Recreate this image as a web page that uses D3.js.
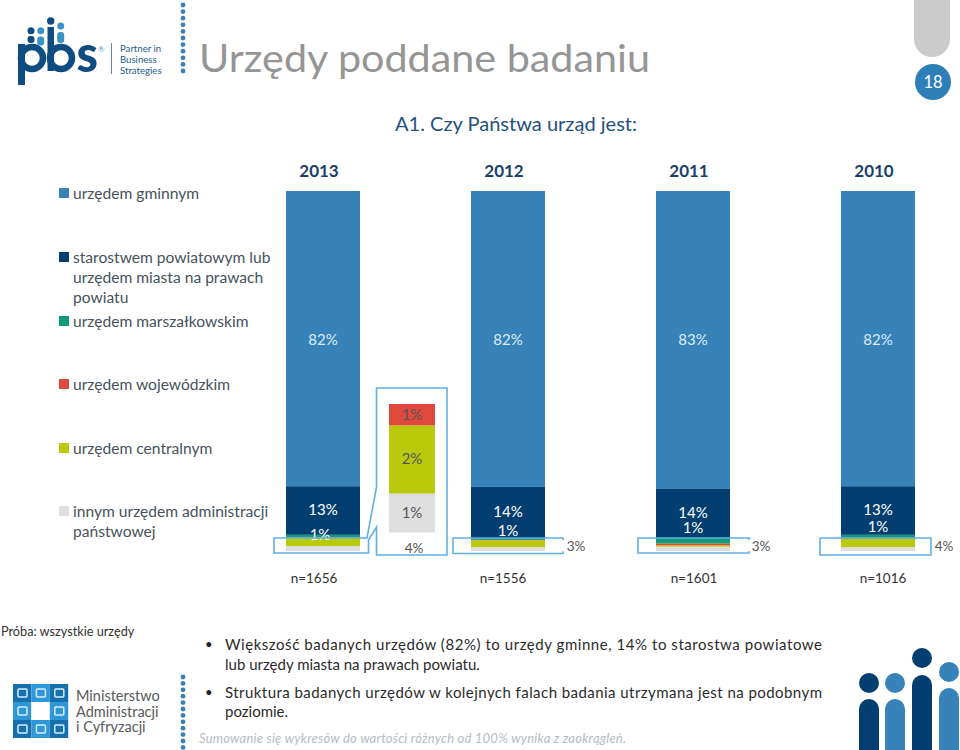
<!DOCTYPE html>
<html><head><meta charset="utf-8">
<script src="https://cdn.jsdelivr.net/npm/d3@7/dist/d3.min.js"></script>
<style>html,body{margin:0;padding:0;background:#fff}svg{display:block}text{font-family:Lato,"Open Sans",sans-serif}</style>
</head><body><svg id="c" width="960" height="750"></svg>
<script>
const years = ["2013","2012","2011","2010"];
const sampleSizes = ["n=1656","n=1556","n=1601","n=1016"];
const seriesNames = ["gminny","powiatowy","marszalkowski","wojewodzki","centralny","inny"];
const legendLabels = [["urzędem gminnym"],["starostwem powiatowym lub","urzędem miasta na prawach","powiatu"],["urzędem marszałkowskim"],["urzędem wojewódzkim"],["urzędem centralnym"],["innym urzędem administracji","państwowej"]];
const seriesColors = ["#3782b8","#033e70","#0d9a78","#e0483c","#b9c90b","#dedede"];
const gminny = [82,82.2,82.6,82];
const powiatowy = [13.5,14.3,13.8,13.5];
const marszalkowski = [0.6,0.4,1.5,0.8];
const wojewodzki = [0.2,0.1,0.5,0.3];
const centralny = [2.3,1.9,0.4,2.3];
const inny = [1.4,1.1,1.2,1.1];
const topLabels = ["82%","82%","83%","82%"];
const navyLabels = ["13%","14%","14%","13%"];
const greenLabels = ["1%","1%","1%","1%"];
const sideLabels = ["4%","3%","3%","4%"];
const insetNames = ["inny","centralny","wojewodzki"];
const insetValues = [1.0,1.75,0.55];
const insetLabels = ["1%","2%","1%"];
const bullets = [["Większość badanych urzędów (82%) to urzędy gminne, 14% to starostwa powiatowe","lub urzędy miasta na prawach powiatu."],["Struktura badanych urzędów w kolejnych falach badania utrzymana jest na podobnym","poziomie."]];

const svg = d3.select("#c");
const x = d3.scaleBand().domain(years).range([286,915]).paddingInner(0.6);
const y = d3.scaleLinear().domain([0,100]).range([551,191]);
const cx = d=>x(d)+x.bandwidth()/2;
const txt = (s,px,py,size,fill,anchor="start",extra={})=>{
  const t=svg.append("text").attr("x",px).attr("y",py).attr("font-size",size).attr("fill",fill).attr("text-anchor",anchor).text(s);
  for(const k in extra)t.attr(k,extra[k]);return t;};
const blue="#3782b8",navy="#033e70",line="#5fb0e4",grayT="#555";

// header
txt("Urzędy poddane badaniu",199,72,38.5,"#959595","start",{textLength:451,lengthAdjust:"spacingAndGlyphs"});
txt("A1. Czy Państwa urząd jest:",395,131,19,"#24527f","start",{textLength:242,lengthAdjust:"spacingAndGlyphs"});
svg.append("path").attr("d","M914,0H950V39A18,18 0 0 1 932,57A18,18 0 0 1 914,39Z").attr("fill","#cbcbcb");
svg.append("circle").attr("cx",933).attr("cy",82).attr("r",18).attr("fill","#2e7fb8");
txt("18",933,88,16.5,"#fff","middle");

// dotted rules
d3.range(0,11).forEach(i=>svg.append("circle").attr("cx",183).attr("cy",5+i*6.6).attr("r",2.4).attr("fill","#3a80b5"));
d3.range(0,12).forEach(i=>svg.append("circle").attr("cx",183).attr("cy",677+i*6.4).attr("r",2.4).attr("fill","#3a80b5"));

// pbs logo
const pbs=svg.append("g"), pc="#0f4c81", pl="#3d93c4";
pbs.append("rect").attr("x",18).attr("y",44).attr("width",7).attr("height",41).attr("fill",pc);
pbs.append("circle").attr("cx",32).attr("cy",58).attr("r",11).attr("fill","none").attr("stroke",pc).attr("stroke-width",6.5);
pbs.append("rect").attr("x",47.5).attr("y",27).attr("width",6.5).attr("height",44).attr("fill",pc);
pbs.append("circle").attr("cx",61).attr("cy",58).attr("r",11).attr("fill","none").attr("stroke",pc).attr("stroke-width",6.5);
pbs.append("text").attr("x",76.5).attr("y",72).attr("font-size",52).attr("font-weight",900).attr("fill",pc).attr("textLength",21.5).attr("lengthAdjust","spacingAndGlyphs").text("s");
[[31,30.7,pc,3.5],[40.7,30.7,pl,3.5],[50.7,21,pc,3.7],[60.7,26,pl,3.5]].forEach(d=>{
  pbs.append("circle").attr("cx",d[0]).attr("cy",d[1]).attr("r",d[3]).attr("fill",d[2]);
});
pbs.append("rect").attr("x",27.5).attr("y",36).attr("width",7).attr("height",7).attr("rx",3).attr("fill",pc);
pbs.append("rect").attr("x",37.2).attr("y",36.5).attr("width",7).attr("height",9).attr("rx",3).attr("fill",pl);
pbs.append("rect").attr("x",57.2).attr("y",32).attr("width",7).attr("height",11).attr("rx",3).attr("fill",pl);
txt("®",98,52,8,"#6a9cc0");
svg.append("rect").attr("x",111).attr("y",43).attr("width",1).attr("height",31).attr("fill","#5b8db5");
["Partner in","Business","Strategies"].forEach((s,i)=>txt(s,120,52+i*11,9.6,"#1e5a8c"));

// legend
const legendY=[193,257,321,384,448,511];
legendLabels.forEach((ls,i)=>{
  svg.append("rect").attr("x",59).attr("y",legendY[i]-5).attr("width",10).attr("height",10).attr("fill",seriesColors[i]);
  ls.forEach((s,j)=>txt(s,73,legendY[i]+5.5+j*20,15.6,"#47525c"));
});

// stacks
const rows = years.map((yr,i)=>({yr,gminny:gminny[i],powiatowy:powiatowy[i],marszalkowski:marszalkowski[i],wojewodzki:wojewodzki[i],centralny:centralny[i],inny:inny[i]}));
const stacked=d3.stack().keys(seriesNames.slice().reverse())(rows);
svg.append("g").selectAll("g").data(stacked).join("g")
  .attr("fill",s=>seriesColors[seriesNames.indexOf(s.key)])
  .selectAll("rect").data(s=>s).join("rect")
  .attr("x",d=>x(d.data.yr)).attr("width",x.bandwidth())
  .attr("y",d=>y(d[1])).attr("height",d=>y(d[0])-y(d[1]));

years.forEach((yr,i)=>{
  txt(yr,cx(yr)-4,177,17,"#1b3f66","middle",{"font-weight":700});
  txt(topLabels[i],cx(yr),345,15,"#dcecf5","middle");
  txt(navyLabels[i],cx(yr),[515,517,518,515][i],15,"#fff","middle");
  txt(greenLabels[i],cx(yr)+[-3,0,0,0][i],[540,536,533,532][i],15,"#fff","middle");
  txt(sampleSizes[i],[314,503,694,883][i],583,13.5,"#333","middle");
});
[[576,"3%",1],[761,"3%",2],[944,"4%",3]].forEach(d=>txt(sideLabels[d[2]],d[0],551,13.5,grayT,"middle"));

// inset
const insetCol={inny:seriesColors[5],centralny:seriesColors[4],wojewodzki:seriesColors[3]};
const iy=d3.scaleLinear().domain([0,d3.sum(insetValues)]).range([532.5,404]);
let acc=0;
insetValues.forEach((v,i)=>{
  svg.append("rect").attr("x",389).attr("width",46).attr("y",iy(acc+v)).attr("height",iy(acc)-iy(acc+v)).attr("fill",insetCol[insetNames[i]]);
  txt(insetLabels[i],412,(iy(acc)+iy(acc+v))/2+5,15,grayT,"middle");
  acc+=v;
});
txt(sideLabels[0],414,553,13.5,grayT,"middle");

// callouts
const lg=d3.line();
const co=(pts)=>svg.append("path").attr("d",lg(pts)).attr("fill","none").attr("stroke",line).attr("stroke-width",1.6);
co([[376.5,487],[367,538],[274,538],[274,553],[368.5,553],[368.5,540],[376.5,527],[376.5,555],[447,555],[447,388],[376.5,388],[376.5,487]]);
co([[563,540],[563,538],[453,538],[453,553.5],[563,553.5],[563,551.5]]);
co([[749,540],[749,538],[638,538],[638,553],[749,553],[749,551]]);
co([[820,538],[931,538],[931,555],[820,555],[820,538]]);

// notes
txt("Próba: wszystkie urzędy",1,636,12.7,"#333");
txt("•",205,649,13,"#222");
txt("•",205,697,13,"#222");
txt(bullets[0][0],225,650,15,"#2b2b2b","start",{textLength:597,lengthAdjust:"spacing"});
txt(bullets[0][1],225,670,15,"#2b2b2b");
txt(bullets[1][0],225,698,15,"#2b2b2b","start",{textLength:597,lengthAdjust:"spacing"});
txt(bullets[1][1],225,717,15,"#2b2b2b");
txt("Sumowanie się wykresów do wartości różnych od 100% wynika z zaokrągleń.",199,743,13,"#b5bcc4","start",{"font-style":"italic",textLength:427,lengthAdjust:"spacing"});

// ministry logo
const mg=svg.append("g");
[0,1,2].forEach(r=>[0,1,2].forEach(c=>{
  const col=(r==1&&c==1)?"#fff":((r+c)%2?"#2f97d8":"#1571ad");
  mg.append("rect").attr("x",13+c*18.4).attr("y",684+r*18).attr("width",18.4).attr("height",18).attr("fill",col);
  if(r==1&&c==1)return;
  mg.append("rect").attr("x",18+c*18.4).attr("y",689+r*18).attr("width",9).attr("height",8).attr("rx",1).attr("fill","none").attr("stroke","#d6eefa").attr("stroke-width",1.5);
}));
["Ministerstwo","Administracji","i Cyfryzacji"].forEach((s,i)=>txt(s,76,701+i*15.5,14.5,"#57595b"));

// figures
[[869,683,699,navy],[895,683,699,blue],[922,658,675,navy],[949,672,688,blue]].forEach(d=>{
  svg.append("circle").attr("cx",d[0]).attr("cy",d[1]).attr("r",10).attr("fill",d[3]);
  svg.append("path").attr("d",`M${d[0]-10},750V${d[2]+10}A10,10 0 0 1 ${d[0]+10},${d[2]+10}V750Z`).attr("fill",d[3]);
});
</script></body></html>
